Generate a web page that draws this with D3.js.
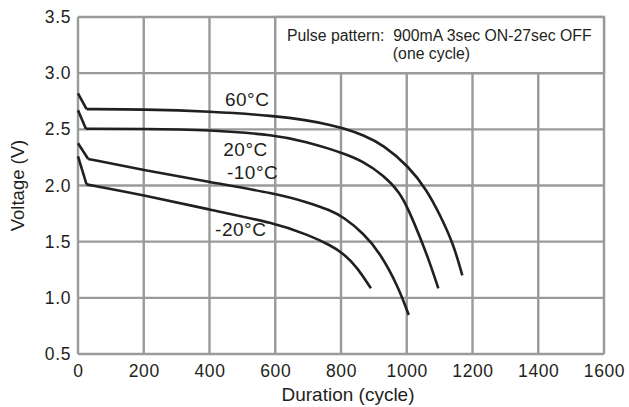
<!DOCTYPE html>
<html><head><meta charset="utf-8">
<script src="https://cdn.jsdelivr.net/npm/d3@7"></script>
<style>
body{margin:0;background:#fff}
svg{display:block;background:#fff}
text{font-family:"Liberation Sans",Arial,Helvetica,sans-serif;fill:#231f20}
</style>
</head><body>
<svg id="c" width="629" height="407"></svg>
<script>
// ---- data ----
const xTicks = [0, 200, 400, 600, 800, 1000, 1200, 1400, 1600];
const yTicks = [0.5, 1.0, 1.5, 2.0, 2.5, 3.0, 3.5];
const seriesNames = ["60°C", "20°C", "-10°C", "-20°C"];
const s60 = [[0,2.82],[26,2.68],[200,2.678],[400,2.66],[600,2.62],[700,2.58],[767,2.54],[807,2.51],[868,2.45],[929,2.36],[1006,2.17],[1061,1.96],[1101,1.74],[1142,1.48],[1169,1.20]];
const s20 = [[0,2.67],[24,2.505],[200,2.505],[400,2.495],[600,2.45],[700,2.385],[767,2.325],[807,2.285],[868,2.215],[929,2.09],[979,1.94],[1006,1.78],[1040,1.544],[1071,1.307],[1096,1.085]];
const sM10 = [[0,2.376],[31,2.236],[200,2.138],[400,2.03],[600,1.93],[700,1.85],[767,1.78],[807,1.72],[868,1.575],[919,1.40],[974,1.10],[1006,0.847]];
const sM20 = [[0,2.26],[26,2.01],[200,1.915],[400,1.785],[600,1.665],[700,1.56],[767,1.47],[807,1.396],[848,1.277],[891,1.085]];
const noteLines = ["Pulse pattern:  900mA 3sec ON-27sec OFF", "(one cycle)"];
const xTitle = "Duration (cycle)";
const yTitle = "Voltage (V)";

// ---- layout ----
const svg = d3.select("#c");
const x = d3.scaleLinear().domain([0, 1600]).range([78, 604]);
const y = d3.scaleLinear().domain([0.5, 3.5]).range([354, 17]);
const gridColor = "#9a9a9a";
const ink = "#231f20";

// grid
const grid = svg.append("g");
grid.selectAll("line.v").data(xTicks).join("line")
  .attr("x1", d => x(d)).attr("x2", d => x(d))
  .attr("y1", y(3.5)).attr("y2", y(0.5))
  .attr("stroke", gridColor).attr("stroke-width", 2.4);
grid.selectAll("line.h").data(yTicks).join("line")
  .attr("x1", x(0)).attr("x2", x(1600))
  .attr("y1", d => y(d)).attr("y2", d => y(d))
  .attr("stroke", gridColor).attr("stroke-width", 2.4);

// note box
svg.append("rect")
  .attr("x", x(600)).attr("y", y(3.5))
  .attr("width", x(1600) - x(600)).attr("height", y(3.0) - y(3.5))
  .attr("fill", "#fff").attr("stroke", gridColor).attr("stroke-width", 2.4);
svg.append("text").attr("x", 287).attr("y", 40.5)
  .style("font-size", "15.8px").style("white-space", "pre").text(noteLines[0]);
svg.append("text").attr("x", 431.5).attr("y", 59).attr("text-anchor", "middle")
  .style("font-size", "15.8px").text(noteLines[1]);

// axes (labels only)
const xa = svg.append("g").attr("transform", `translate(0,${y(0.5)})`)
  .call(d3.axisBottom(x).tickValues(xTicks).tickSize(0).tickPadding(10.5).tickFormat(d3.format("d")));
const ya = svg.append("g").attr("transform", `translate(${x(0)},0)`)
  .call(d3.axisLeft(y).tickValues(yTicks).tickSize(0).tickPadding(7).tickFormat(d3.format(".1f")));
[xa, ya].forEach(g => {
  g.select(".domain").remove();
  g.selectAll("text").attr("fill", ink).style("font-size", "17.5px")
    .style("letter-spacing", "0.6px").style("font-family", '"Liberation Sans",Arial,sans-serif');
});

// titles
svg.append("text").attr("x", 348).attr("y", 401).attr("text-anchor", "middle")
  .style("font-size", "19px").text(xTitle);
svg.append("text").attr("transform", `translate(24,${(y(0.5) + y(3.5)) / 2}) rotate(-90)`)
  .attr("text-anchor", "middle").style("font-size", "18.5px").text(yTitle);

// curves: straight initial drop, smooth discharge afterwards
const linear = d3.line().x(d => x(d[0])).y(d => y(d[1]));
const smooth = d3.line().x(d => x(d[0])).y(d => y(d[1])).curve(d3.curveBasis);
const allSeries = [s60, s20, sM10, sM20];
const cg = svg.append("g").attr("fill", "none").attr("stroke", ink)
  .attr("stroke-width", 2.6).attr("stroke-linejoin", "round");
allSeries.forEach(s => {
  cg.append("path").attr("d", linear(s.slice(0, 2)));
  cg.append("path").attr("d", smooth(s.slice(1)));
});

// curve labels (anchored in data coords)
const labelAt = [[447, 2.71], [442, 2.263], [453, 2.055], [417, 1.55]];
svg.append("g").selectAll("text").data(seriesNames).join("text")
  .attr("x", (d, i) => x(labelAt[i][0])).attr("y", (d, i) => y(labelAt[i][1]))
  .style("font-size", "19px").style("letter-spacing", "0.5px").text(d => d);
</script>
</body></html>
